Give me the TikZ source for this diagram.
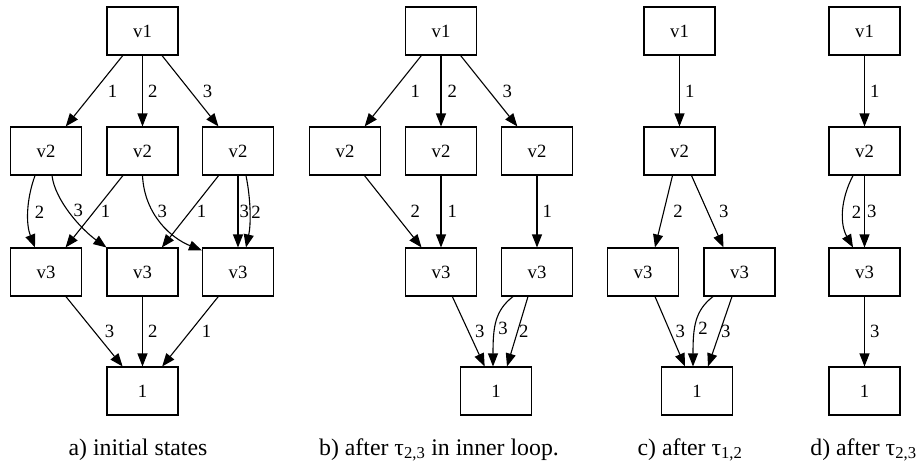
\documentclass[tikz,border=0pt]{standalone}
\usepackage{fontspec}
\setmainfont{Liberation Serif}
\usetikzlibrary{arrows.meta}

\begin{document}
\begin{tikzpicture}[x=1pt,y=-1pt,
    box/.style={draw,line width=1.1pt,minimum width=71pt,minimum height=48pt,inner sep=0pt,font=\fontsize{18.7}{20}\selectfont},
    link/.style={line width=1.1pt,-{Triangle[length=13pt,width=10pt]}},
    lbl/.style={inner sep=0pt,font=\fontsize{18.7}{20}\selectfont},
    capt/.style={anchor=base,font=\fontsize{23.8}{26}\selectfont}]
  \useasboundingbox (0,0) rectangle (922,464);

  % a) initial states
  \node[box] (av1) at (142.5,31) {v1};
  \node[box] (aend) at (142.5,391) {1};
  \foreach[count=\i] \x in {46,142.5,238} {
    \node[box] (av2\i) at (\x,151) {v2};
    \node[box] (av3\i) at (\x,272) {v3};
  }
  \draw[link] (av1) -- node[lbl,right=13pt] {1} (av21);
  \draw[link] (av1) -- node[lbl,right=5pt] {2} (av22);
  \draw[link] (av1) -- node[lbl,right=12pt] {3} (av23);
  \draw[link] ([xshift=-11pt]av21.south) .. controls +(-9,25) and +(-9,-23) .. node[lbl,right=6pt] {2} ([xshift=-11pt]av31.north);
  \draw[link] ([xshift=6pt]av21.south) .. controls +(3,25) and +(-25,-18) .. node[lbl,pos=.45,right=5pt] {3} (av32.north west);
  \draw[link] (av22) -- node[lbl,right=6pt] {1} (av31);
  \draw[link] (av22.south) .. controls +(2,40) and +(-30,-12) .. node[lbl,pos=.35,right=4pt] {3} ([yshift=-3pt]av33.north west);
  \draw[link] (av23) -- node[lbl,right=6pt] {1} (av32);
  \draw[link] (av23) -- node[lbl,right=1pt] {3} (av33);
  \draw[link] ([xshift=8pt]av23.south) .. controls +(5,25) and +(5,-23) .. node[lbl,right=1pt] {2} ([xshift=8pt]av33.north);
  \draw[link] (av31) -- node[lbl,right=10pt] {3} (aend);
  \draw[link] (av32) -- node[lbl,right=5pt] {2} (aend);
  \draw[link] (av33) -- node[lbl,right=11pt] {1} (aend);

  % b) inner loop
  \node[box] (bv1) at (441,31) {v1};
  \foreach[count=\i] \x in {345,441,537}
    \node[box] (bv2\i) at (\x,151) {v2};
  \node[box] (bv31) at (441,272) {v3};
  \node[box] (bv32) at (537,272) {v3};
  \node[box] (bend) at (496,391) {1};
  \draw[link] (bv1) -- node[lbl,right=17pt] {1} (bv21);
  \draw[link] (bv1) -- node[lbl,right=6pt] {2} (bv22);
  \draw[link] (bv1) -- node[lbl,right=13pt] {3} (bv23);
  \draw[link] (bv21) -- node[lbl,right=17pt] {2} (bv31);
  \draw[link] (bv22) -- node[lbl,right=6pt] {1} (bv31);
  \draw[link] (bv23) -- node[lbl,right=5pt] {1} (bv32);
  \draw[link] (bv31) -- node[lbl,right=6pt] {3} (bend);
  \draw[link] ([xshift=-24pt]bv32.south) .. controls +(-18,14) and +(0,-40) .. node[lbl,pos=.6,right=3pt] {3} ([xshift=-3pt]bend.north);
  \draw[link] ([xshift=-9pt]bv32.south) -- node[lbl,right=1pt] {2} ([xshift=11pt]bend.north);

  % c) tau 1,2
  \node[box] (cv1) at (679.5,31) {v1};
  \node[box] (cv2) at (679.5,151) {v2};
  \node[box] (cv31) at (643,272) {v3};
  \node[box] (cv32) at (739.5,272) {v3};
  \node[box] (cend) at (697,391) {1};
  \draw[link] (cv1) -- node[lbl,right=5pt] {1} (cv2);
  \draw[link] ([xshift=-7pt]cv2.south) -- node[lbl,right=9pt] {2} ([xshift=12pt]cv31.north);
  \draw[link] ([xshift=12pt]cv2.south) -- node[lbl,right=11pt] {3} ([xshift=-16pt]cv32.north);
  \draw[link] ([xshift=12pt]cv31.south) -- node[lbl,right=5pt] {3} ([xshift=-12pt]cend.north);
  \draw[link] ([xshift=-26.5pt]cv32.south) .. controls +(-18,14) and +(0,-40) .. node[lbl,pos=.6,right=3pt] {2} ([xshift=-4pt]cend.north);
  \draw[link] ([xshift=-7.5pt]cv32.south) -- node[lbl,right=0.5pt] {3} ([xshift=11pt]cend.north);

  % d) tau 2,3
  \node[box] (dv1) at (864.5,31) {v1};
  \node[box] (dv2) at (864.5,151) {v2};
  \node[box] (dv3) at (864.5,272) {v3};
  \node[box] (dend) at (864.5,391) {1};
  \draw[link] (dv1) -- node[lbl,right=5pt] {1} (dv2);
  \draw[link] ([xshift=-11.5pt]dv2.south) .. controls +(-13,25) and +(-13,-23) .. node[lbl,right=8pt] {2} ([xshift=-11.5pt]dv3.north);
  \draw[link] (dv2) -- node[lbl,right=2pt] {3} (dv3);
  \draw[link] (dv3) -- node[lbl,right=5pt] {3} (dend);

  % captions
  \node[capt] (capa) at (138,455) {a) initial states};
  \node[capt] (capb) at (439,455) {b) after τ\textsubscript{2,3} in inner loop.};
  \node[capt] (capc) at (690,455) {c) after τ\textsubscript{1,2}};
  \node[capt] (capd) at (863.5,455) {d) after τ\textsubscript{2,3}};
\end{tikzpicture}
\end{document}
